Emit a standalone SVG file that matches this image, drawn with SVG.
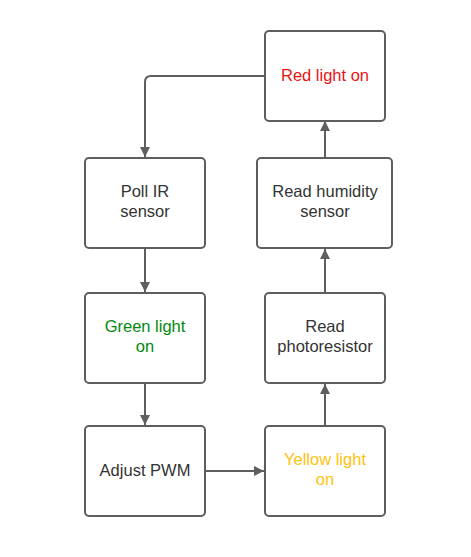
<svg xmlns="http://www.w3.org/2000/svg" width="471" height="557" viewBox="0 0 471 557">
<style>
.box{fill:#fff;stroke:#5e5e5e;stroke-width:2;}
.t{font-family:"Liberation Sans",Arial,sans-serif;font-size:16.5px;text-anchor:middle;fill:#333;}
.c{fill:none;stroke:#5e5e5e;stroke-width:2;}
</style>
<defs>
<marker id="ah" viewBox="0 0 10 10" refX="10" refY="5" markerWidth="11" markerHeight="10" markerUnits="userSpaceOnUse" orient="auto">
<path d="M0,0 L10,5 L0,10 Z" fill="#5e5e5e"/>
</marker>
</defs>
<rect width="471" height="557" fill="#fff"/>
<g id="connectors">
<path class="c" d="M265,76 H151 Q145,76 145,82 V157" marker-end="url(#ah)"/>
<path class="c" d="M145,249 V292" marker-end="url(#ah)"/>
<path class="c" d="M145,384 V425" marker-end="url(#ah)"/>
<path class="c" d="M206,471 H264" marker-end="url(#ah)"/>
<path class="c" d="M325,426 V384" marker-end="url(#ah)"/>
<path class="c" d="M325,293 V249" marker-end="url(#ah)"/>
<path class="c" d="M325,158 V121" marker-end="url(#ah)"/>
</g>
<g id="red">
<rect class="box" x="265" y="31" width="120" height="90" rx="4"/>
<text class="t" x="325" y="81" style="fill:#e81313">Red light on</text>
</g>
<g id="pollir">
<rect class="box" x="85" y="158" width="120" height="90" rx="4"/>
<text class="t" x="145" y="197">Poll IR</text>
<text class="t" x="145" y="217">sensor</text>
</g>
<g id="humidity">
<rect class="box" x="257" y="158" width="135" height="90" rx="4"/>
<text class="t" x="325" y="197">Read humidity</text>
<text class="t" x="325" y="217">sensor</text>
</g>
<g id="green">
<rect class="box" x="85" y="293" width="120" height="90" rx="4"/>
<text class="t" x="145" y="332" style="fill:#008a0e">Green light</text>
<text class="t" x="145" y="352" style="fill:#008a0e">on</text>
</g>
<g id="photo">
<rect class="box" x="265" y="293" width="120" height="90" rx="4"/>
<text class="t" x="325" y="332">Read</text>
<text class="t" x="325" y="352">photoresistor</text>
</g>
<g id="pwm">
<rect class="box" x="85" y="426" width="120" height="90" rx="4"/>
<text class="t" x="145" y="476">Adjust PWM</text>
</g>
<g id="yellow">
<rect class="box" x="265" y="426" width="120" height="90" rx="4"/>
<text class="t" x="325" y="465" style="fill:#ffc20e">Yellow light</text>
<text class="t" x="325" y="485" style="fill:#ffc20e">on</text>
</g>
</svg>
